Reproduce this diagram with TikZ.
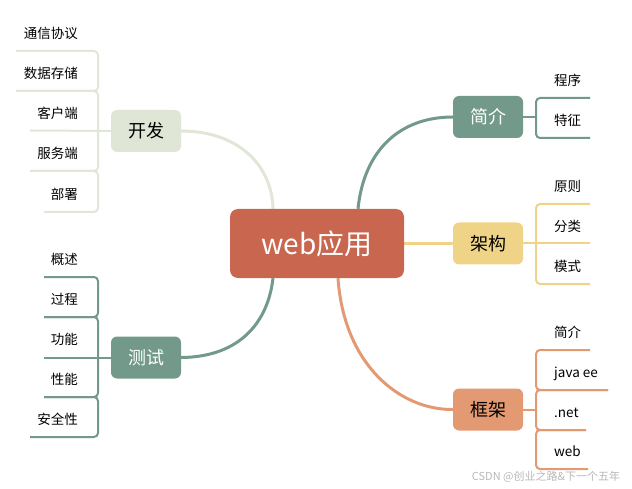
\documentclass[tikz,border=0pt]{standalone}
\usepackage{fontspec}
\setmainfont{Noto Sans CJK SC}
\usetikzlibrary{calc,backgrounds}
\definecolor{cRed}{HTML}{C8664F}
\definecolor{cLG}{HTML}{DFE6D6}
\definecolor{cLGl}{HTML}{E0E7D7}
\definecolor{cTeal}{HTML}{72998A}
\definecolor{cYel}{HTML}{EFD487}
\definecolor{cSal}{HTML}{E39A73}
\begin{document}
\begin{tikzpicture}[x=1pt,y=-1pt,
  topic/.style={rounded corners=6pt, minimum width=70pt, minimum height=42pt, inner sep=0pt, font=\fontsize{18}{20}\selectfont},
  item/.style={inner sep=0pt, font=\fontsize{13.5}{15}\selectfont, text height=11pt, text depth=1.5pt},
  br/.style={line width=2pt, rounded corners=4pt},
  cv/.style={line width=3pt}]
\useasboundingbox (0,0) rectangle (632,489);

% central
\node[fill=cRed, rounded corners=8pt, minimum width=174pt, minimum height=69pt, inner sep=0pt, text=white, font=\fontsize{28}{30}\selectfont] (c) at (317,243.5) {web应用};

% topics
\node[topic, fill=cLG] (kf) at (146,131) {开发};
\node[topic, fill=cTeal, text=white] (cs) at (146,357.5) {测试};
\node[topic, fill=cTeal, text=white] (jj) at (488,117) {简介};
\node[topic, fill=cYel] (jg) at (488,243.5) {架构};
\node[topic, fill=cSal] (kj) at (488,409.5) {框架};

% curves
\begin{pgfonlayer}{background}
\draw[cv, cLGl] (kf.east) .. controls (238,131) and (272,165) .. ($(c.north)+(-44,0)$);
\draw[cv, cTeal] (cs.east) .. controls (240,357) and (268,322) .. ($(c.south)+(-44,0)$);
\draw[cv, cTeal] ($(c.north)+(41,0)$) .. controls (364,150) and (400,117) .. (jj.west);
\draw[cv, cYel] (c.east) -- (jg.west);
\draw[cv, cSal] ($(c.south)+(21,0)$) .. controls (344,365) and (400,410) .. (kj.west);
\end{pgfonlayer}

% ---- 开发 items
\node[item, anchor=east] (a1) at (78,34) {通信协议};
\node[item, anchor=east] (a2) at (78,74) {数据存储};
\node[item, anchor=east] (a3) at (78,113.5) {客户端};
\node[item, anchor=east] (a4) at (78,154) {服务端};
\node[item, anchor=east] (a5) at (78,195) {部署};
\draw[br, cLGl] (16,51) -- (98,51) -- (98,91) -- (16,91);
\draw[br, cLGl] (16,91) -- (98,91) -- (98,171) -- (30,171);
\draw[br, cLGl] (30,171) -- (98,171) -- (98,212) -- (44,212);
\draw[line width=2pt, cLGl] (30,130.5) -- (kf.west);

% ---- 测试 items
\node[item, anchor=east] (b1) at (78,260) {概述};
\node[item, anchor=east] (b2) at (78,300) {过程};
\node[item, anchor=east] (b3) at (78,340) {功能};
\node[item, anchor=east] (b4) at (78,380) {性能};
\node[item, anchor=east] (b5) at (78,420) {安全性};
\draw[br, cTeal] (44,277) -- (98,277) -- (98,317) -- (44,317);
\draw[br, cTeal] (44,317) -- (98,317) -- (98,397) -- (44,397);
\draw[br, cTeal] (44,397) -- (98,397) -- (98,437) -- (30,437);
\draw[line width=2pt, cTeal] (44,357.5) -- (cs.west);

% ---- 简介 items
\node[item, anchor=west] (c1) at (554,81) {程序};
\node[item, anchor=west] (c2) at (554,121) {特征};
\draw[br, cTeal] (590,98) -- (536,98) -- (536,138) -- (590,138);
\draw[line width=2pt, cTeal] (jj.east) -- (536,117);

% ---- 架构 items
\node[item, anchor=west] (d1) at (554,187) {原则};
\node[item, anchor=west] (d2) at (554,227) {分类};
\node[item, anchor=west] (d3) at (554,267) {模式};
\draw[br, cYel] (590,204) -- (536,204) -- (536,284) -- (590,284);
\draw[line width=2pt, cYel] (jg.east) -- (590,243.5);

% ---- 框架 items
\node[item, anchor=west] (e1) at (554,333) {简介};
\node[item, anchor=west] (e2) at (554,373) {java ee};
\node[item, anchor=west] (e3) at (554,413) {.net};
\node[item, anchor=west] (e4) at (554,452) {web};
\draw[br, cSal] (590,350) -- (536,350) -- (536,390) -- (608,390);
\draw[br, cSal] (608,390) -- (536,390) -- (536,430) -- (586,430);
\draw[br, cSal] (586,430) -- (536,430) -- (536,469) -- (588,469);
\draw[line width=2pt, cSal] (kj.east) -- (536,409.5);

% watermark
\node[text=black!28, font=\fontsize{11}{12}\selectfont, inner sep=0pt] (wm) at (546,477) {CSDN @创业之路\&下一个五年};
\end{tikzpicture}
\end{document}
